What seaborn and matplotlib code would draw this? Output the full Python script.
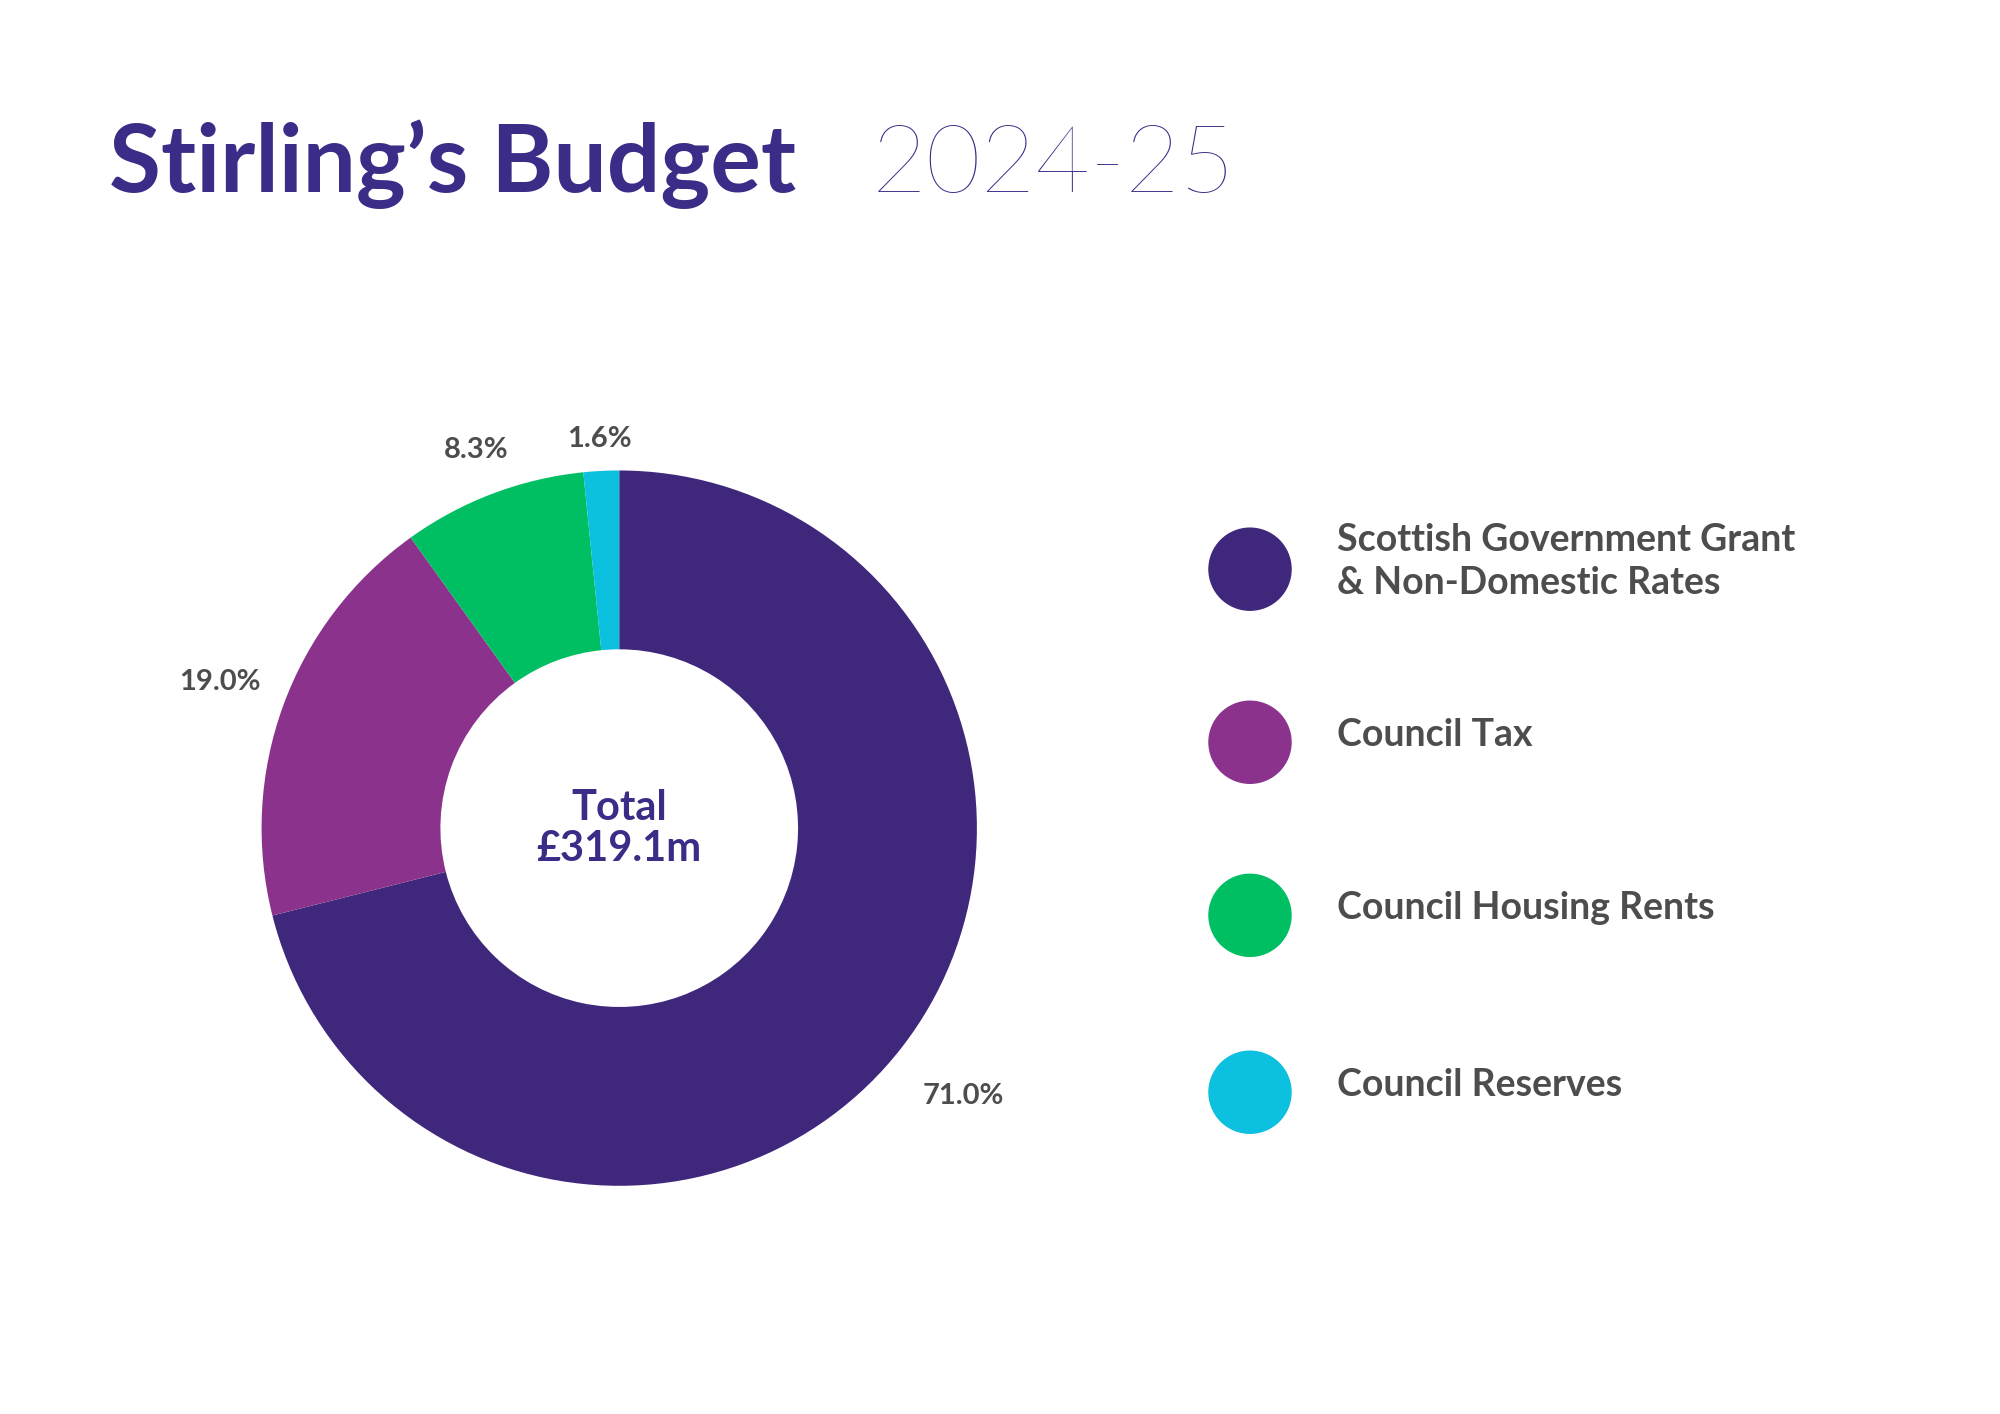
import numpy as np
import matplotlib
matplotlib.use('Agg')
import matplotlib.pyplot as plt
import seaborn as sns

# Data
categories = ['Scottish Government Grant\n& Non-Domestic Rates', 'Council Tax',
              'Council Housing Rents', 'Council Reserves']
shares = [71.0, 19.0, 8.3, 1.6]
pct_labels = ['71.0%', '19.0%', '8.3%', '1.6%']
colors = ['#3F277C', '#8B338C', '#00BF63', '#0CC0DF']
total_label = 'Total\n£319.1m'

sns.set_theme(style='white')
plt.rcParams['font.family'] = ['Lato', 'DejaVu Sans']

W, H = 1560, 1103  # layout coords of the reference
fig = plt.figure(figsize=(20, 14.14), dpi=100)
fig.patch.set_facecolor('white')

# Title
fig.text(85 / W, 1 - 150 / H, "Stirling’s Budget", fontsize=68, fontweight='bold',
         color='#3B2D87', va='baseline', ha='left')
fig.text(680 / W, 1 - 150 / H, "2024-25", fontsize=68, fontweight='light',
         color='#3B2D87', va='baseline', ha='left')

# Donut
cx, cy, r = 483 / W, 1 - 646 / H, 279
ax = fig.add_axes([cx - r / W, cy - r / H, 2 * r / W, 2 * r / H])
wedges, _ = ax.pie(shares, colors=colors, startangle=90, counterclock=False,
                   radius=1, wedgeprops=dict(width=0.5, edgecolor='none'))
ax.set_aspect('equal')
ax.set_xlim(-1, 1)
ax.set_ylim(-1, 1)

dists = [1.22, 1.19, 1.13, 1.09]
for w, lab, d in zip(wedges, pct_labels, dists):
    ang = np.deg2rad((w.theta1 + w.theta2) / 2)
    ax.text(d * np.cos(ang), d * np.sin(ang), lab, ha='center', va='center',
            fontsize=21, fontweight='bold', color='#4D4D4D', clip_on=False)

ax.text(0, 0, total_label, ha='center', va='center', fontsize=30,
        fontweight='bold', color='#3B2D87', linespacing=1.1)

# Legend
lax = fig.add_axes([0, 0, 1, 1], facecolor='none')
lax.set_xlim(0, W)
lax.set_ylim(H, 0)
lax.axis('off')
ys = [444, 579, 714, 852]
for y, c, name in zip(ys, colors, categories):
    lax.add_patch(matplotlib.patches.Ellipse((975, y), 64, 64, color=c))
    lax.text(1043, y - 6, name, ha='left', va='center', fontsize=27,
             fontweight='bold', color='#4D4D4D', linespacing=1.3)

fig.savefig('out.png', dpi=100, facecolor='white')
